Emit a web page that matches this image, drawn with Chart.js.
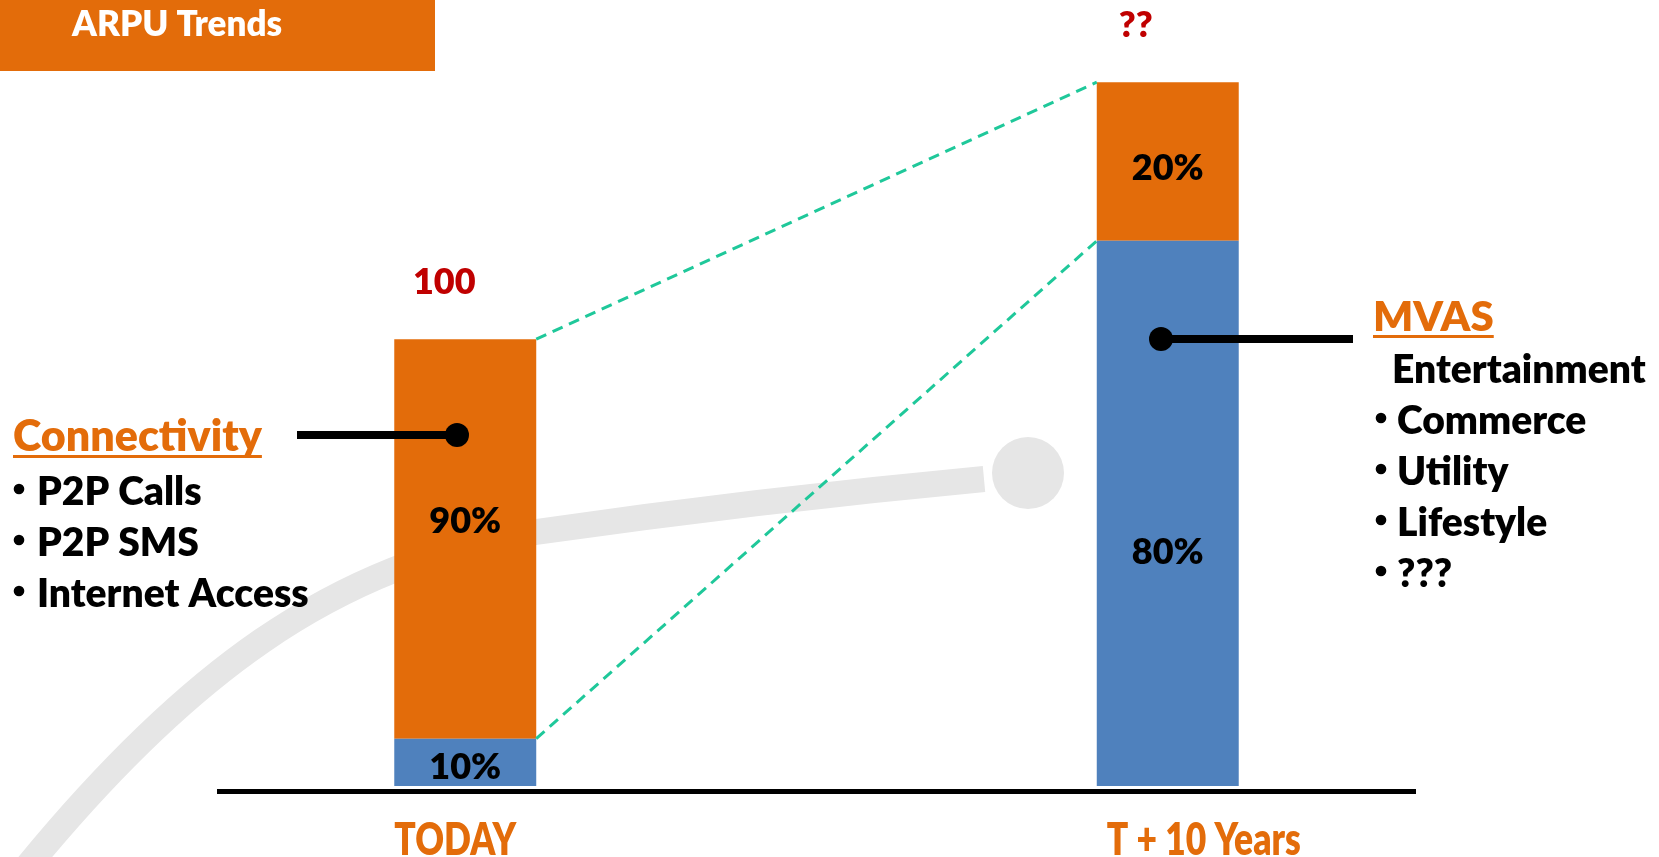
<!DOCTYPE html>
<html>
<head>
<meta charset="utf-8">
<title>ARPU Trends</title>
<script src="https://cdn.jsdelivr.net/npm/chart.js@4.4.1/dist/chart.umd.min.js"></script>
<style>
  html, body { margin: 0; padding: 0; background: #fff; }
  #wrap { width: 1659px; height: 857px; }
</style>
</head>
<body>
<div id="wrap"><canvas id="arpuChart" width="1659" height="857"></canvas></div>
<script>
/* ===== DATA ===== */
const periods = ["TODAY", "T + 10 Years"];
const mvasValues = [10.6, 122];
const connectivityValues = [89.4, 35.5];
const totalLabels = ["100", "??"];
const mvasShareLabels = ["10%", "80%"];
const connShareLabels = ["90%", "20%"];
const connectivityItems = ["P2P Calls", "P2P SMS", "Internet Access"];
const mvasHeading = "Entertainment";
const mvasItems = ["Commerce", "Utility", "Lifestyle", "???"];

/* ===== STYLE ===== */
const ORANGE = "#E36C0A";
const BLUE = "#4F81BD";
const RED = "#C00000";
const TEAL = "#1FC89A";
const SWOOSH = "#E6E6E6";
const FONT = "Lato, 'Open Sans', sans-serif";

// label nudges, relative to the bar segments
const totalShiftX = [-21, -32];
const connShareBase = [-6, 18];   // baseline offset from segment middle
const mvasShareBase = [17, 51];
const periodShiftX = [-10, 36];

function bullet(ctx, x, y) {
  ctx.beginPath();
  ctx.arc(x, y - 16, 5.3, 0, Math.PI * 2);
  ctx.fill();
}

/* ===== DECORATION PLUGIN ===== */
const decor = {
  id: "decor",
  beforeDraw(chart) {
    const ctx = chart.ctx;
    ctx.save();
    // grey swoosh in the background
    ctx.strokeStyle = SWOOSH;
    ctx.lineWidth = 26;
    ctx.beginPath();
    ctx.moveTo(10, 888);
    ctx.bezierCurveTo(180, 675, 336, 561, 536, 532);
    ctx.quadraticCurveTo(760, 500, 984, 479);
    ctx.stroke();
    ctx.fillStyle = SWOOSH;
    ctx.beginPath();
    ctx.arc(1028, 473, 36, 0, Math.PI * 2);
    ctx.fill();

    // title box
    ctx.fillStyle = ORANGE;
    ctx.fillRect(0, 0, 435, 71);
    ctx.fillStyle = "#fff";
    ctx.font = "800 35px " + FONT;
    ctx.textBaseline = "alphabetic";
    ctx.fillText("ARPU Trends", 72, 36);
    ctx.restore();
  },

  afterDatasetsDraw(chart) {
    const ctx = chart.ctx;
    const blue = chart.getDatasetMeta(0).data;
    const orange = chart.getDatasetMeta(1).data;
    ctx.save();

    // base line
    ctx.fillStyle = "#000";
    ctx.fillRect(217, 789, 1199, 5);

    // dashed links between the bars
    const l = orange[0], r = orange[1];
    ctx.strokeStyle = TEAL;
    ctx.lineWidth = 3;
    ctx.setLineDash([11, 7]);
    ctx.beginPath();
    ctx.moveTo(l.x + l.width / 2, l.y);
    ctx.lineTo(r.x - r.width / 2, r.y);
    ctx.moveTo(l.x + l.width / 2, l.base);
    ctx.lineTo(r.x - r.width / 2, r.base);
    ctx.stroke();
    ctx.setLineDash([]);

    // value labels
    ctx.textAlign = "center";
    ctx.textBaseline = "alphabetic";
    ctx.font = "800 36px " + FONT;
    for (let i = 0; i < periods.length; i++) {
      const o = orange[i], b = blue[i];
      ctx.fillStyle = "#000";
      ctx.fillText(connShareLabels[i], o.x, (o.y + o.base) / 2 + connShareBase[i]);
      ctx.fillText(mvasShareLabels[i], b.x, (b.y + b.base) / 2 + mvasShareBase[i]);
      ctx.fillStyle = RED;
      ctx.fillText(totalLabels[i], o.x + totalShiftX[i], o.y - 45);
    }

    // category labels (condensed)
    ctx.fillStyle = ORANGE;
    ctx.font = "800 46px " + FONT;
    const xs = chart.scales.x;
    xs.getLabels().forEach((lab, i) => {
      ctx.save();
      ctx.translate(xs.getPixelForValue(i) + periodShiftX[i], 855);
      ctx.scale(0.77, 1);
      ctx.fillText(lab, 0, 0);
      ctx.restore();
    });

    // connectors
    ctx.fillStyle = "#000";
    ctx.fillRect(297, 431, 160, 8);
    ctx.beginPath();
    ctx.arc(457, 435, 12, 0, Math.PI * 2);
    ctx.fill();
    ctx.fillRect(1161, 335, 192, 8);
    ctx.beginPath();
    ctx.arc(1161, 339, 12, 0, Math.PI * 2);
    ctx.fill();

    // left notes
    ctx.textAlign = "left";
    ctx.fillStyle = ORANGE;
    ctx.font = "800 43px " + FONT;
    ctx.fillText("Connectivity", 13, 451);
    ctx.fillRect(13, 455, ctx.measureText("Connectivity").width, 3);
    ctx.fillStyle = "#000";
    ctx.font = "800 39px " + FONT;
    connectivityItems.forEach((t, i) => {
      const y = 505 + i * 51;
      bullet(ctx, 19, y);
      ctx.fillText(t, 37, y);
    });

    // right notes
    ctx.fillStyle = ORANGE;
    ctx.font = "800 42px " + FONT;
    ctx.fillText("MVAS", 1373, 331);
    ctx.fillRect(1373, 335, ctx.measureText("MVAS").width, 3);
    ctx.fillStyle = "#000";
    ctx.font = "800 39px " + FONT;
    ctx.fillText(mvasHeading, 1392, 383);
    mvasItems.forEach((t, i) => {
      const y = 434 + i * 51;
      bullet(ctx, 1381, y);
      ctx.fillText(t, 1397, y);
    });

    ctx.restore();
  }
};

/* ===== CHART ===== */
new Chart(document.getElementById("arpuChart").getContext("2d"), {
  type: "bar",
  data: {
    labels: periods,
    datasets: [
      { label: "MVAS", data: mvasValues, backgroundColor: BLUE },
      { label: "Connectivity", data: connectivityValues, backgroundColor: ORANGE }
    ]
  },
  options: {
    responsive: false,
    animation: false,
    devicePixelRatio: 1,
    layout: { padding: { top: 4, bottom: 71, left: 114, right: 140 } },
    datasets: { bar: { barPercentage: 1, categoryPercentage: 0.2021 } },
    scales: {
      x: { stacked: true, display: false },
      y: { stacked: true, display: false, min: 0, max: 175 }
    },
    plugins: {
      legend: { display: false },
      tooltip: { enabled: false }
    }
  },
  plugins: [decor]
});
</script>
</body>
</html>
